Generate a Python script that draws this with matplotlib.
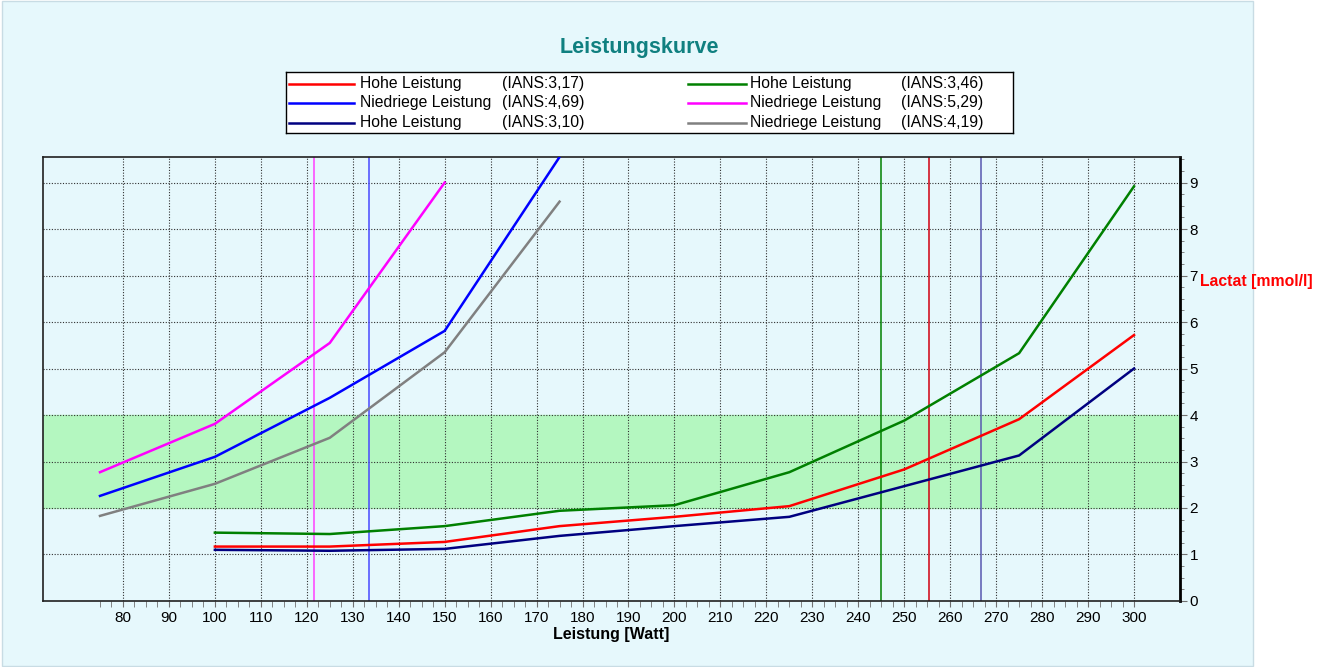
import numpy as np
import matplotlib
matplotlib.use("Agg")
import matplotlib.pyplot as plt
from matplotlib.ticker import FixedLocator, MultipleLocator
from matplotlib.patches import Rectangle

plt.rcParams['font.family'] = ['Liberation Sans', 'DejaVu Sans']

# Leistung in Watt
watt_low = [75, 100, 125, 150, 175]
watt_high = [100, 125, 150, 175, 200, 225, 250, 275, 300]

# Lactat-Werte (mmol/l)
red_vals = [1.17, 1.17, 1.27, 1.61, 1.81, 2.04, 2.83, 3.91, 5.72]
green_vals = [1.47, 1.44, 1.61, 1.94, 2.06, 2.77, 3.88, 5.33, 8.92]
navy_vals = [1.10, 1.08, 1.12, 1.40, 1.61, 1.81, 2.47, 3.13, 5.00]
blue_vals = [2.26, 3.10, 4.37, 5.81, 9.55]
magenta_vals = [2.77, 3.81, 5.55, 9.00]
gray_vals = [1.83, 2.52, 3.51, 5.35, 8.59]

names = ["Hohe Leistung", "Niedriege Leistung", "Hohe Leistung",
         "Hohe Leistung", "Niedriege Leistung", "Niedriege Leistung"]
ians = ["(IANS:3,17)", "(IANS:4,69)", "(IANS:3,10)",
        "(IANS:3,46)", "(IANS:5,29)", "(IANS:4,19)"]
colors = ["#ff0000", "#0000ff", "#000080", "#008000", "#ff00ff", "#808080"]

# IANS-Schwellen (Watt)
thr_watt = [121.6, 133.5, 245.0, 255.4, 266.6]
thr_colors = ["#ff40ff", "#4848ff", "#008000", "#d00010", "#5858b0"]

fig = plt.figure(figsize=(13.27, 6.67), dpi=100)
fig.patch.set_facecolor("white")
fig.add_artist(Rectangle((0.0015, 0.002), 0.943, 0.996, transform=fig.transFigure,
                         facecolor="#e6f8fc", edgecolor="#c8dce4", lw=1, zorder=-10))

ax = fig.add_axes([0.0324, 0.0990, 0.8568, 0.6656])
ax.set_facecolor("#e6f8fc")
ax.set_xlim(62.6, 310.0)
ax.set_ylim(0, 9.55)

# Zielbereich
ax.axhspan(2, 4, color="#b4f7c0", zorder=0)

# Gitter
for xv in range(80, 301, 10):
    ax.axvline(xv, color="#303030", lw=0.8, ls=(0, (1, 1.5)), zorder=1)
for yv in range(1, 10):
    ax.axhline(yv, color="#303030", lw=0.8, ls=(0, (1, 1.5)), zorder=1)

for xv, c in zip(thr_watt, thr_colors):
    ax.axvline(xv, color=c, lw=1.1, zorder=2)

ax.plot(watt_high, red_vals, color=colors[0], lw=1.8, zorder=3)
ax.plot(watt_low, blue_vals, color=colors[1], lw=1.8, zorder=3)
ax.plot(watt_high, navy_vals, color=colors[2], lw=1.8, zorder=3)
ax.plot(watt_high, green_vals, color=colors[3], lw=1.8, zorder=3)
ax.plot(watt_low[:4], magenta_vals, color=colors[4], lw=1.8, zorder=3)
ax.plot(watt_low, gray_vals, color=colors[5], lw=1.8, zorder=3)

# Achsen
ax.xaxis.set_major_locator(FixedLocator(list(range(80, 301, 10))))
ax.xaxis.set_minor_locator(FixedLocator(list(np.arange(75, 300.1, 2.5))))
ax.tick_params(axis="x", which="both", direction="out", length=4, color="#707070",
               labelsize=11, pad=3)
ax.yaxis.tick_right()
ax.yaxis.set_major_locator(MultipleLocator(1))
ax.yaxis.set_minor_locator(MultipleLocator(0.25))
ax.tick_params(axis="y", which="major", direction="out", length=5, color="#707070",
               labelsize=11, pad=2)
ax.tick_params(axis="y", which="minor", direction="out", length=3, color="#707070")
for s in ["left", "top", "bottom"]:
    ax.spines[s].set_color("#202020")
    ax.spines[s].set_linewidth(1.2)
ax.spines["right"].set_color("black")
ax.spines["right"].set_linewidth(2)

ax.set_xlabel("Leistung [Watt]", fontsize=11.5, fontweight="bold", labelpad=2)
ax.yaxis.set_label_position("right")
ax.set_ylabel("Lactat [mmol/l]", fontsize=11.3, fontweight="bold", color="red",
              rotation=0, ha="left", va="center")
ax.yaxis.set_label_coords(1.0176, 0.72)

fig.text(0.482, 0.9295, "Leistungskurve", ha="center", va="center",
         fontsize=15.5, fontweight="bold", color="#108080")

# Legende
lax = fig.add_axes([0.2155, 0.8006, 0.548, 0.0915])
lax.set_xlim(0, 1)
lax.set_ylim(0, 1)
lax.set_xticks([])
lax.set_yticks([])
lax.set_facecolor("white")
for s in lax.spines.values():
    s.set_linewidth(1)
    s.set_color("black")
rows = [0.803, 0.492, 0.164]
cols = [(0.0035, 0.094, 0.102, 0.297), (0.553, 0.633, 0.638, 0.846)]
for i in range(6):
    c0, c1, tx, ix = cols[i // 3]
    yy = rows[i % 3]
    lax.plot([c0, c1], [yy, yy], color=colors[i], lw=1.8)
    lax.text(tx, yy, names[i], fontsize=11.3, va="center", ha="left")
    lax.text(ix, yy, ians[i], fontsize=11.3, va="center", ha="left")

fig.savefig("out.png", dpi=100)
